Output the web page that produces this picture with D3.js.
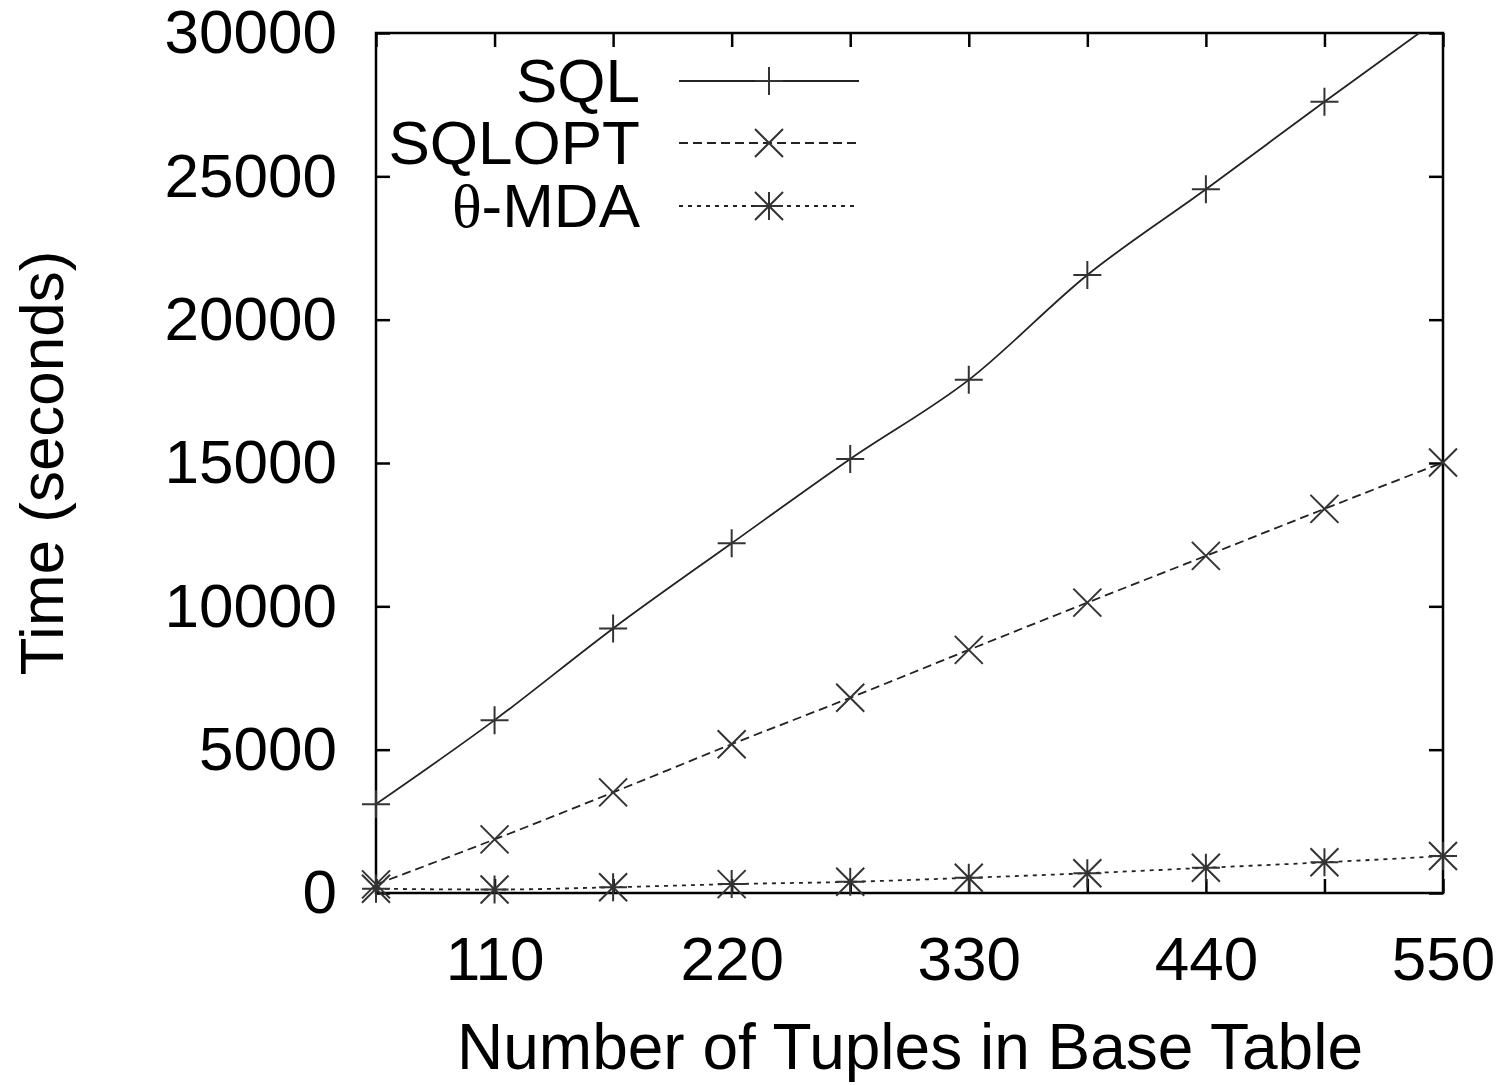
<!DOCTYPE html>
<html>
<head>
<meta charset="utf-8">
<script src="https://cdn.jsdelivr.net/npm/d3@7"></script>
<style>
  html, body { margin: 0; padding: 0; background: #fff; }
  svg { display: block; font-family: "Liberation Sans", Arial, Helvetica, sans-serif; }
</style>
</head>
<body>
<svg id="chart" width="1505" height="1085"></svg>
<script>
// ---- data ----
const tupleCounts = [55, 110, 165, 220, 275, 330, 385, 440, 495, 550];
const sqlTimes    = [3100, 6030, 9230, 12200, 15140, 17900, 21560, 24550, 27600, 30600];
const sqloptTimes = [300, 1870, 3510, 5190, 6810, 8480, 10130, 11760, 13400, 15020];
const mdaTimes    = [150, 120, 200, 310, 390, 530, 690, 880, 1070, 1290];
const seriesNames = ["SQL", "SQLOPT", "θ-MDA"];
const xTickValues = [55, 110, 165, 220, 275, 330, 385, 440, 495, 550];
const xLabelValues = [110, 220, 330, 440, 550];
const yTickValues = [0, 5000, 10000, 15000, 20000, 25000, 30000];
const xTitle = "Number of Tuples in Base Table";
const yTitle = "Time (seconds)";

// ---- layout ----
const L = 376, R = 1443, T = 33, B = 893;
const svg = d3.select("#chart");
const x = d3.scaleLinear().domain([55, 550]).range([L, R]);
const y = d3.scaleLinear().domain([0, 30000]).range([B, T]);
const fontSize = 62;
const ink = "#000";

svg.append("defs").append("clipPath").attr("id", "plotclip")
  .append("rect").attr("x", L).attr("y", T).attr("width", R - L).attr("height", B - T);

// axes
const fmt = d => xLabelValues.includes(d) ? String(d) : "";
const xb = svg.append("g").attr("transform", `translate(0,${B})`)
  .call(d3.axisBottom(x).tickValues(xTickValues).tickSize(-14).tickPadding(43).tickFormat(fmt));
const xt = svg.append("g").attr("transform", `translate(0,${T})`)
  .call(d3.axisTop(x).tickValues(xTickValues).tickSize(-14).tickFormat(""));
const yl = svg.append("g").attr("transform", `translate(${L},0)`)
  .call(d3.axisLeft(y).tickValues(yTickValues).tickSize(-14).tickPadding(39).tickFormat(d3.format("d")));
const yr = svg.append("g").attr("transform", `translate(${R},0)`)
  .call(d3.axisRight(y).tickValues(yTickValues).tickSize(-14).tickFormat(""));
[xb, xt, yl, yr].forEach(g => {
  g.select(".domain").remove();
  g.selectAll(".tick line").attr("stroke", ink).attr("stroke-width", 2.5);
  g.selectAll(".tick text").attr("font-size", fontSize).attr("fill", ink)
    .attr("font-family", "'Liberation Sans', Arial, sans-serif");
});

// border
svg.append("rect").attr("x", L).attr("y", T).attr("width", R - L).attr("height", B - T)
  .attr("fill", "none").attr("stroke", ink).attr("stroke-width", 2.5);

// series
const series = [
  { name: seriesNames[0], values: sqlTimes,    dash: null,  marker: "plus" },
  { name: seriesNames[1], values: sqloptTimes, dash: "9,5", marker: "cross" },
  { name: seriesNames[2], values: mdaTimes,    dash: "4,5", marker: "star" }
];
const lineColor = "#222";
const markColor = "#333";
const ms = 14;

function drawMarker(g, type, cx, cy) {
  const d = [];
  if (type === "plus" || type === "star") {
    d.push(`M${cx - ms},${cy}H${cx + ms}`, `M${cx},${cy - ms}V${cy + ms}`);
  }
  if (type === "cross" || type === "star") {
    d.push(`M${cx - ms},${cy - ms}L${cx + ms},${cy + ms}`, `M${cx - ms},${cy + ms}L${cx + ms},${cy - ms}`);
  }
  g.append("path").attr("d", d.join("")).attr("stroke", markColor)
    .attr("stroke-width", 2).attr("fill", "none");
}

const line = d3.line().x(d => x(d[0])).y(d => y(d[1])).curve(d3.curveMonotoneX);
const plotG = svg.append("g").attr("clip-path", "url(#plotclip)");
const markG = svg.append("g");

series.forEach(s => {
  const pts = tupleCounts.map((t, i) => [t, s.values[i]]);
  plotG.append("path").attr("d", line(pts)).attr("fill", "none")
    .attr("stroke", lineColor).attr("stroke-width", 1.8)
    .attr("stroke-dasharray", s.dash);
  pts.filter(p => p[1] <= 30000).forEach(p => drawMarker(markG, s.marker, x(p[0]), y(p[1])));
});

// legend
const legTextX = 640, legL = 679, legR = 859, legMark = 769;
const legRows = [81, 143, 206];
series.forEach((s, i) => {
  const cy = legRows[i];
  const t = svg.append("text").attr("x", legTextX).attr("y", cy + 21)
    .attr("text-anchor", "end").attr("font-size", fontSize).attr("fill", ink);
  if (s.name.startsWith("θ")) {
    t.append("tspan").attr("font-family", "'Liberation Serif', 'Times New Roman', serif").text("θ");
    t.append("tspan").text(s.name.slice(1));
  } else {
    t.text(s.name);
  }
  svg.append("line").attr("x1", legL).attr("x2", legR).attr("y1", cy).attr("y2", cy)
    .attr("stroke", lineColor).attr("stroke-width", 1.8).attr("stroke-dasharray", s.dash);
  drawMarker(svg, s.marker, legMark, cy);
});

// axis titles
svg.append("text").attr("x", 910).attr("y", 1069).attr("text-anchor", "middle")
  .attr("font-size", 64).attr("fill", ink).text(xTitle);
svg.append("text").attr("transform", "translate(63,463) rotate(-90)")
  .attr("text-anchor", "middle").attr("font-size", fontSize).attr("fill", ink).text(yTitle);
</script>
</body>
</html>
